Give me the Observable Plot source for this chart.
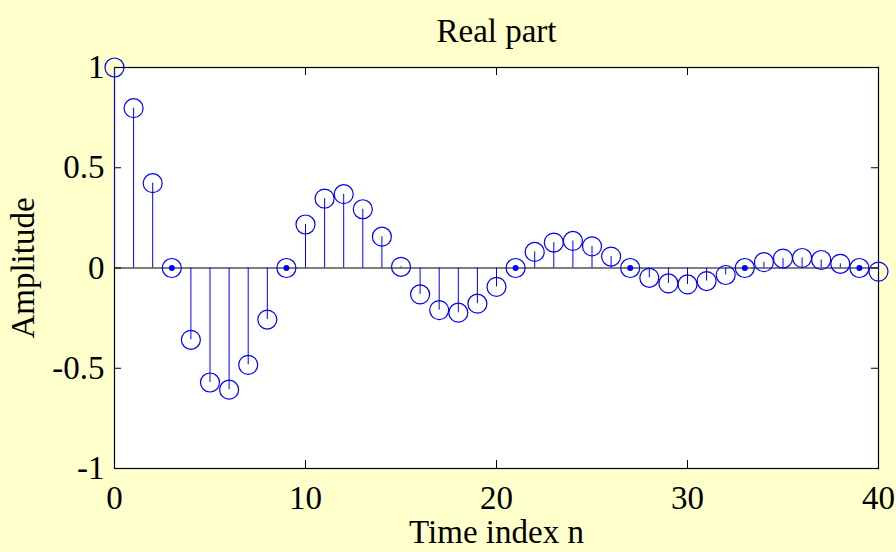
<!DOCTYPE html>
<html><head><meta charset="utf-8">
<script src="https://cdn.jsdelivr.net/npm/d3@7"></script>
<script src="https://cdn.jsdelivr.net/npm/@observablehq/plot@0.6"></script>
<style>html,body{margin:0;padding:0;background:#FFFFCC;}</style>
</head><body><div id="chart"></div>
<script>
const timeIndex = [0,1,2,3,4,5,6,7,8,9,10,11,12,13,14,15,16,17,18,19,20,21,22,23,24,25,26,27,28,29,30,31,32,33,34,35,36,37,38,39,40];
const realPart = [1.000,0.797,0.423,0,-0.358,-0.571,-0.607,-0.483,-0.257,0,
  0.217,0.346,0.368,0.293,0.156,0.006,-0.132,-0.210,-0.223,-0.178,
  -0.094,0,0.080,0.127,0.135,0.108,0.057,0,-0.049,-0.077,
  -0.082,-0.065,-0.035,0,0.029,0.047,0.050,0.040,0.021,0,-0.018];
const xTicks = [0,10,20,30,40];
const yTicks = [-1,-0.5,0,0.5,1];
const titleText = "Real part";
const xLabel = "Time index n";
const yLabel = "Amplitude";

const data = timeIndex.map((n,i)=>({n, v: realPart[i]}));
const fmt = d => String(d);
const W = 896, H = 552, mL = 114, mR = 18, mT = 67, mB = 84;
const fw = W - mL - mR, fh = H - mT - mB;

const chart = Plot.plot({
  width: W, height: H,
  marginLeft: mL, marginRight: mR, marginTop: mT, marginBottom: mB,
  style: {background: "#FFFFCC", fontFamily: "'Liberation Serif','Times New Roman',serif", fontSize: "33px", color: "black", overflow: "visible"},
  x: {domain: [0, 40]},
  y: {domain: [-1, 1]},
  marks: [
    Plot.frame({fill: "white", stroke: null}),
    Plot.frame({stroke: "black", strokeWidth: 1.2}),
    Plot.ruleX(xTicks, {x: d=>d, insetTop: fh - 8, stroke: "black"}),
    Plot.ruleX(xTicks, {x: d=>d, insetBottom: fh - 8, stroke: "black"}),
    Plot.ruleY(yTicks, {y: d=>d, insetRight: fw - 7, stroke: "black"}),
    Plot.ruleY(yTicks, {y: d=>d, insetLeft: fw - 7, stroke: "black"}),
    Plot.axisX(xTicks, {anchor: "bottom", tickSize: 0, tickPadding: 17, tickFormat: fmt, label: null, fontSize: 33}),
    Plot.axisY(yTicks, {anchor: "left", tickSize: 0, tickPadding: 10, tickFormat: fmt, label: null, fontSize: 33}),
    Plot.ruleY([0], {stroke: "black", strokeWidth: 1.2}),
    Plot.ruleX(data, {x: "n", y1: 0, y2: "v", stroke: "blue", strokeWidth: 1}),
    Plot.dot(data, {x: "n", y: "v", r: 9.5, stroke: "blue", fill: "none", strokeWidth: 1.2}),
    Plot.dot(data.filter(d => d.v === 0), {x: "n", y: "v", r: 3, fill: "blue", stroke: null}),
    Plot.text([titleText], {frameAnchor: "top", dy: -36, lineAnchor: "middle", textAnchor: "middle", fontSize: 33, fill: "black"}),
    Plot.text([xLabel], {frameAnchor: "bottom", dy: 64, lineAnchor: "middle", textAnchor: "middle", fontSize: 33, fill: "black"}),
    Plot.text([yLabel], {frameAnchor: "left", dx: -91, rotate: -90, lineAnchor: "middle", textAnchor: "middle", fontSize: 33, fill: "black"})
  ]
});
document.getElementById("chart").appendChild(chart);
</script>
</body></html>
